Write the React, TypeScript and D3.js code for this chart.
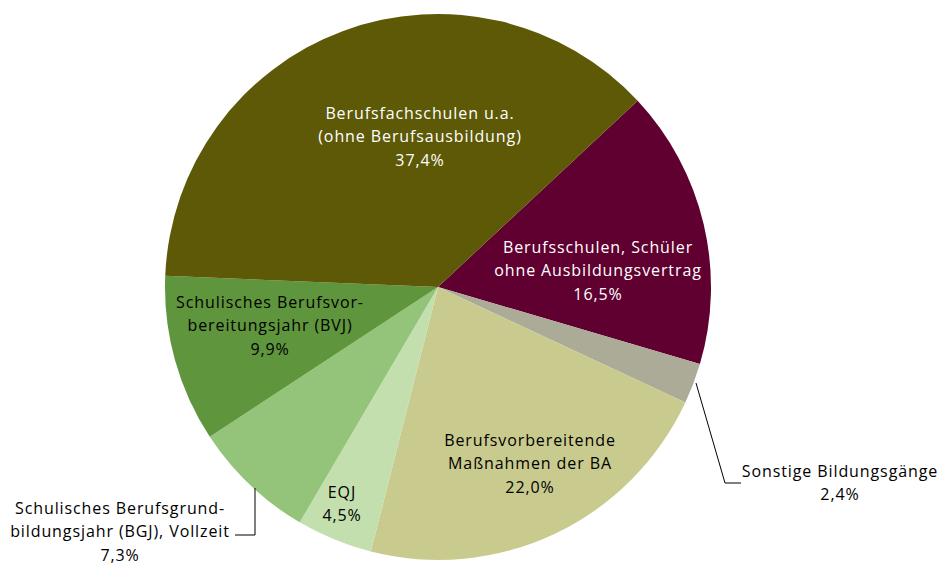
import * as d3 from 'd3';
import React, { useEffect, useRef } from 'react';

type Slice = {
  name: string[];
  value: number;
};

const categories = [
  ['Berufsschulen, Schüler', 'ohne Ausbildungsvertrag'],
  ['Sonstige Bildungsgänge'],
  ['Berufsvorbereitende', 'Maßnahmen der BA'],
  ['EQJ'],
  ['Schulisches Berufsgrund-', 'bildungsjahr (BGJ), Vollzeit'],
  ['Schulisches Berufsvor-', 'bereitungsjahr (BVJ)'],
  ['Berufsfachschulen u.a.', '(ohne Berufsausbildung)'],
];
const values = [16.5, 2.4, 22.0, 4.5, 7.3, 9.9, 37.4];
const colors = ['#5f0030', '#abab97', '#c9cb8e', '#c3dfae', '#93c47a', '#5f953d', '#5d5907'];
const textColors = ['#ffffff', '#000000', '#000000', '#000000', '#000000', '#000000', '#ffffff'];

// label anchors relative to pie centre (null leader = inside)
const labelPos = [
  { dx: 160, dy: -15, leader: null },
  { dx: 402, dy: 197, leader: [[258, 96], [287, 196], [303, 196]] },
  { dx: 92, dy: 178, leader: null },
  { dx: -96, dy: 218, leader: null },
  { dx: -318, dy: 246, leader: [[-183, 201], [-183, 248], [-203, 248]] },
  { dx: -168, dy: 40, leader: null },
  { dx: -18, dy: -149, leader: null },
];

const width = 944;
const height = 567;
const cx = 438;
const cy = 287;
const radius = 273;

const App: React.FC = () => {
  const ref = useRef<SVGSVGElement | null>(null);

  useEffect(() => {
    document.body.style.margin = '0';
    const svg = d3.select(ref.current);
    svg.selectAll('*').remove();

    const data: Slice[] = categories.map((c, i) => ({ name: c, value: values[i] }));
    const startA = (47 * Math.PI) / 180;
    const pie = d3
      .pie<Slice>()
      .sort(null)
      .value(d => d.value)
      .startAngle(startA)
      .endAngle(startA + 2 * Math.PI);
    const arc = d3.arc<d3.PieArcDatum<Slice>>().innerRadius(0).outerRadius(radius);

    const g = svg.append('g').attr('transform', `translate(${cx},${cy})`);

    g.selectAll('path')
      .data(pie(data))
      .enter()
      .append('path')
      .attr('d', arc)
      .attr('fill', (_, i) => colors[i]);

    const fmt = (v: number) => v.toFixed(1).replace('.', ',') + '%';

    pie(data).forEach((d, i) => {
      const p = labelPos[i];
      if (p.leader) {
        g.append('path')
          .attr('d', d3.line()(p.leader as [number, number][]))
          .attr('fill', 'none')
          .attr('stroke', '#000')
          .attr('stroke-width', 1);
      }
      const lines = [...d.data.name, fmt(d.data.value)];
      const lh = 23.5;
      const t = g
        .append('text')
        .attr('text-anchor', 'middle')
        .attr('font-family', '"Open Sans", "Noto Sans", sans-serif')
        .attr('font-size', 16)
        .attr('letter-spacing', 0.9)
        .attr('fill', textColors[i]);
      lines.forEach((ln, k) => {
        t.append('tspan')
          .attr('x', p.dx)
          .attr('y', p.dy + (k - (lines.length - 1) / 2) * lh)
          .attr('dominant-baseline', 'middle')
          .text(ln);
      });
    });
  }, []);

  return <svg ref={ref} width={width} height={height} style={{ display: 'block', background: '#fff' }} />;
};

export default App;
